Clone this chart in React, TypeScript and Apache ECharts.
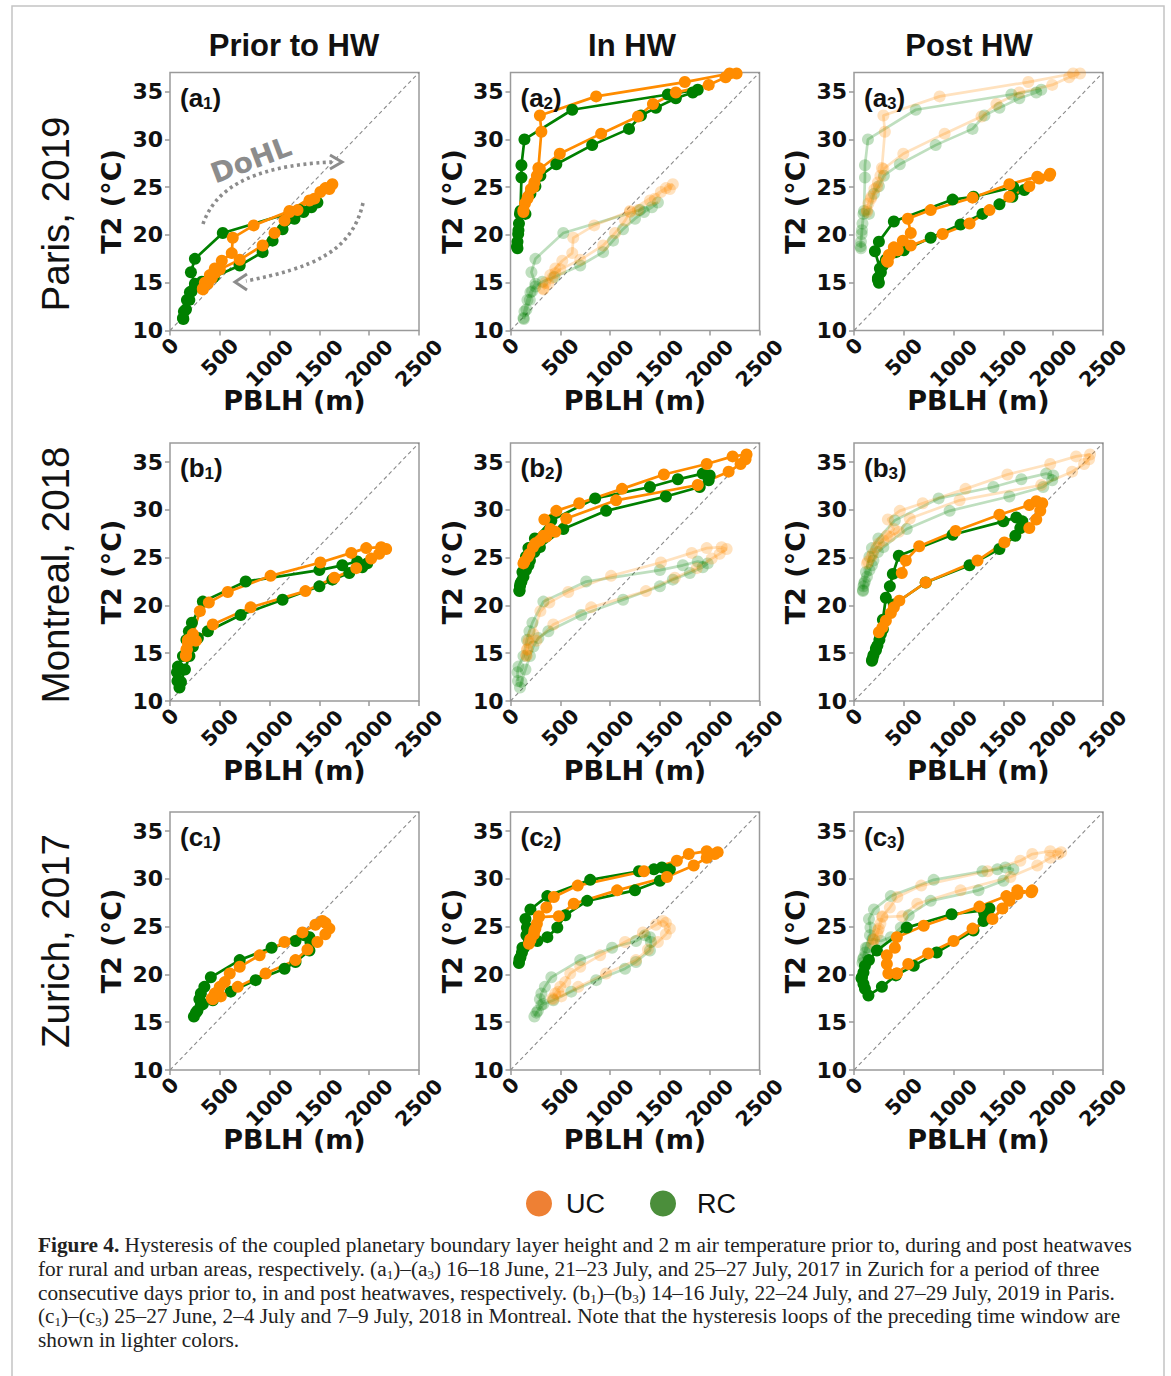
import React, { useEffect, useRef } from 'react';
import * as echarts from 'echarts';

// ---------- tick labels / texts ----------
const X_TICKS = [0, 500, 1000, 1500, 2000, 2500];
const Y_TICKS = [10, 15, 20, 25, 30, 35];
const COLUMN_TITLES = ['Prior to HW', 'In HW', 'Post HW'];
const ROW_TITLES = ['Paris, 2019', 'Montreal, 2018', 'Zurich, 2017'];
const ROW_LETTERS = ['a', 'b', 'c'];
const X_NAME = 'PBLH (m)';
const Y_NAME = 'T2 (°C)';
const DIAGONAL = [[0, 10], [2500, 37]];

// ---------- data: [PBLH (m), T2 (°C)] ----------
// Paris, 2019
const PARIS_PRIOR_RC = [[134,11.2],[160,12.2],[194,13.2],[217,14.1],[250,14.6],[320,15.1],[440,15.6],[700,16.8],[930,18.2],[1030,19.4],[1130,20.6],[1250,21.7],[1340,22.4],[1420,22.9],[1480,23.4],[1300,22.6],[530,20.2],[250,17.5],[210,16.1],[250,14.9],[200,14.0],[170,13.2],[140,12.0],[130,11.3]];
const PARIS_PRIOR_UC = [[330,14.3],[380,14.9],[420,15.5],[450,16.0],[500,16.4],[700,17.4],[930,18.9],[1050,20.2],[1150,21.5],[1200,22.4],[1280,22.6],[1400,23.6],[1450,23.8],[1510,24.5],[1600,24.8],[1630,25.3],[1560,24.9],[1200,22.5],[840,21.0],[630,19.7],[620,18.1],[520,17.3],[450,16.5],[400,15.8],[350,15.0],[330,14.4]];
const PARIS_IN_RC = [[70,18.6],[70,19.3],[77,20.1],[85,21.2],[95,22.2],[150,22.2],[200,24.3],[250,25.1],[300,26.2],[460,27.4],[820,29.4],[1190,31.1],[1310,32.5],[1460,33.3],[1660,34.3],[1830,34.9],[1880,35.2],[1580,34.7],[620,33.1],[140,30.0],[110,27.3],[110,26.0],[100,22.5],[80,20.5],[65,18.8]];
const PARIS_IN_UC = [[130,22.4],[145,23.3],[175,24.0],[205,24.8],[240,25.5],[265,26.2],[295,26.9],[495,28.5],[910,30.6],[1280,32.4],[1430,33.7],[1660,34.9],[1990,35.7],[2160,36.5],[2270,36.9],[2200,36.9],[1750,36.0],[860,34.5],[295,32.5],[310,30.8],[280,27.0],[230,25.0],[170,23.8],[130,22.6]];
const PARIS_POST_RC = [[250,15.0],[240,15.5],[270,16.1],[290,16.8],[320,17.4],[420,18.2],[500,18.4],[770,19.7],[1070,21.1],[1290,22.2],[1460,23.2],[1590,24.0],[1710,24.7],[1600,25.0],[1200,24.0],[990,23.7],[400,21.4],[250,19.3],[210,18.3],[260,16.5],[240,15.3]];
const PARIS_POST_UC = [[340,17.2],[360,17.9],[440,18.4],[570,18.9],[890,20.1],[1160,21.2],[1360,22.6],[1560,24.0],[1760,25.1],[1860,25.9],[1960,26.2],[1970,26.4],[1840,26.1],[1560,25.3],[1190,23.9],[770,22.6],[540,21.7],[570,20.2],[490,19.4],[400,18.7],[350,17.9],[330,17.3]];
// Montreal, 2018
const MONTREAL_PRIOR_RC = [[95,11.4],[110,12.0],[150,13.3],[195,14.7],[230,15.7],[280,16.6],[380,17.3],[710,19.0],[1130,20.6],[1500,22.0],[1630,22.7],[1800,23.4],[1930,24.0],[1980,24.4],[1880,24.6],[1730,24.2],[1500,23.7],[760,22.5],[330,20.4],[220,18.2],[190,17.3],[165,16.4],[130,14.7],[80,13.6],[70,13.0],[75,12.1]];
const MONTREAL_PRIOR_UC = [[160,14.7],[170,15.4],[180,16.1],[260,16.3],[430,18.0],[810,19.8],[1360,21.5],[1650,22.9],[1870,23.9],[2020,24.9],[2100,25.4],[2170,25.9],[2120,26.1],[1970,26.0],[1820,25.5],[1510,24.5],[1010,23.1],[580,21.4],[390,20.3],[300,19.4],[230,17.0],[180,16.4],[165,15.4],[160,14.8]];
const MONTREAL_IN_RC = [[90,21.5],[95,22.0],[110,22.5],[130,23.0],[155,23.7],[180,24.2],[195,24.7],[240,25.6],[295,26.1],[530,28.0],[960,29.9],[1560,31.4],[1900,32.4],[1990,33.1],[2000,33.6],[1930,33.8],[1680,33.2],[1400,32.4],[850,31.2],[410,28.9],[245,27.0],[180,26.0],[155,25.1],[120,23.5],[100,22.3],[90,21.6]];
const MONTREAL_IN_UC = [[130,24.4],[175,25.1],[225,26.1],[295,26.8],[360,27.2],[450,27.7],[560,29.1],[1060,31.0],[1880,32.6],[2190,34.0],[2310,34.8],[2360,35.3],[2370,35.8],[2230,35.6],[1970,34.8],[1540,33.7],[1120,32.2],[690,30.7],[460,29.9],[340,29.0],[400,28.0],[330,27.3],[250,26.5],[190,25.4],[140,24.6]];
const MONTREAL_POST_RC = [[180,14.2],[195,14.8],[220,15.3],[235,15.8],[255,16.4],[270,17.0],[290,17.5],[400,20.1],[720,22.4],[1160,24.2],[1460,25.9],[1620,27.3],[1670,28.1],[1690,28.8],[1630,29.2],[1500,28.8],[990,27.4],[450,25.2],[390,23.3],[360,22.0],[320,20.8],[290,18.5],[260,17.0],[220,15.5],[185,14.4]];
const MONTREAL_POST_UC = [[250,17.2],[285,17.7],[320,18.4],[370,19.2],[400,19.8],[455,20.5],[720,22.4],[1240,24.7],[1510,26.6],[1760,28.1],[1830,29.0],[1870,29.9],[1890,30.7],[1830,30.9],[1760,30.5],[1460,29.5],[1020,27.8],[655,26.2],[520,24.7],[480,23.4]];
// Zurich, 2017
const ZURICH_PRIOR_RC = [[240,15.6],[275,16.2],[310,16.8],[430,17.3],[610,18.2],[860,19.4],[1150,20.6],[1260,21.3],[1400,22.5],[1410,23.4],[1400,23.9],[1350,24.1],[1260,23.5],[1020,22.8],[700,21.5],[410,19.7],[345,18.7],[310,18.0],[295,17.4],[330,16.9],[260,16.0]];
const ZURICH_PRIOR_UC = [[430,17.4],[480,18.2],[510,17.7],[680,18.7],[960,20.1],[1260,21.5],[1380,22.6],[1480,23.4],[1560,24.2],[1600,24.8],[1560,25.4],[1530,25.6],[1460,25.2],[1330,24.4],[1150,23.4],[900,22.0],[700,20.8],[600,20.1],[550,19.2],[500,18.7],[450,18.0],[420,17.5]];
const ZURICH_IN_RC = [[85,21.2],[100,21.8],[115,22.3],[135,22.8],[185,23.7],[270,23.5],[370,23.9],[470,24.9],[550,26.2],[770,27.7],[1250,28.8],[1500,29.8],[1600,31.0],[1520,31.2],[1440,31.0],[1290,30.8],[800,29.9],[370,28.2],[200,26.8],[150,25.8],[165,24.9],[160,24.1],[120,22.8],[90,21.6]];
const ZURICH_IN_UC = [[185,23.2],[200,23.7],[235,24.2],[250,24.8],[265,25.3],[285,26.0],[485,26.1],[635,27.4],[1070,28.8],[1570,30.2],[1840,31.4],[1970,32.2],[2050,32.6],[2080,32.8],[1970,32.9],[1790,32.6],[1670,31.9],[1340,30.8],[675,29.3],[435,28.1],[360,27.0],[285,26.1],[240,24.6],[200,23.6]];
const ZURICH_POST_RC = [[80,19.7],[95,19.0],[110,18.5],[145,17.8],[280,18.7],[420,19.9],[600,20.9],[830,22.3],[1200,24.6],[1300,25.6],[1310,26.3],[1360,26.9],[1300,26.7],[980,26.3],[530,24.9],[230,22.5],[150,21.5],[110,20.9],[95,20.2],[75,19.6]];
const ZURICH_POST_UC = [[430,20.1],[545,21.1],[745,22.2],[1000,23.5],[1190,24.8],[1390,25.8],[1490,26.9],[1560,27.7],[1640,28.4],[1790,28.8],[1780,28.6],[1640,28.8],[1530,28.2],[1260,27.1],[700,25.1],[430,23.9],[410,22.8],[330,22.0],[330,21.1],[345,20.1],[430,20.1]];

const PANELS = [
  [{ uc: PARIS_PRIOR_UC, rc: PARIS_PRIOR_RC }, { uc: PARIS_IN_UC, rc: PARIS_IN_RC }, { uc: PARIS_POST_UC, rc: PARIS_POST_RC }],
  [{ uc: MONTREAL_PRIOR_UC, rc: MONTREAL_PRIOR_RC }, { uc: MONTREAL_IN_UC, rc: MONTREAL_IN_RC }, { uc: MONTREAL_POST_UC, rc: MONTREAL_POST_RC }],
  [{ uc: ZURICH_PRIOR_UC, rc: ZURICH_PRIOR_RC }, { uc: ZURICH_IN_UC, rc: ZURICH_IN_RC }, { uc: ZURICH_POST_UC, rc: ZURICH_POST_RC }],
];

const CAPTION = [
  '{b|Figure 4.} Hysteresis of the coupled planetary boundary layer height and 2 m air temperature prior to, during and post heatwaves',
  'for rural and urban areas, respectively. (a{s|1})–(a{s|3}) 16–18 June, 21–23 July, and 25–27 July, 2017 in Zurich for a period of three',
  'consecutive days prior to, in and post heatwaves, respectively. (b{s|1})–(b{s|3}) 14–16 July, 22–24 July, and 27–29 July, 2019 in Paris.',
  '(c{s|1})–(c{s|3}) 25–27 June, 2–4 July and 7–9 July, 2018 in Montreal. Note that the hysteresis loops of the preceding time window are',
  'shown in lighter colors.',
];

// ---------- layout / style ----------
const GRID_LEFT = [170, 510.5, 854];
const GRID_TOP = [72.5, 443, 812];
const GRID_W = 249;
const GRID_H = 258;
const UC_COLOR = '#FF8C00';
const RC_COLOR = '#008000';
const TICK_FONT = 'DejaVu Sans';
const SANS = 'Liberation Sans';
const INK = '#111';

function buildOption() {
  const grid: any[] = [];
  const xAxis: any[] = [];
  const yAxis: any[] = [];
  const series: any[] = [];
  const graphic: any[] = [];

  const xLabelFont = { fontSize: 20.5, fontWeight: 'bold', fontFamily: TICK_FONT, color: INK };
  const yLabelFont = { fontSize: 22, fontWeight: 'bold', fontFamily: TICK_FONT, color: INK };
  const nameFont = { fontSize: 27, fontWeight: 'bold', fontFamily: TICK_FONT, color: INK };

  for (let r = 0; r < 3; r++) {
    for (let c = 0; c < 3; c++) {
      const i = r * 3 + c;
      grid.push({
        left: GRID_LEFT[c], top: GRID_TOP[r], width: GRID_W, height: GRID_H,
        show: true, borderColor: '#9a9a9a', borderWidth: 1.5, backgroundColor: 'transparent',
      });
      xAxis.push({
        type: 'value', gridIndex: i, min: 0, max: 2500, interval: 500,
        splitLine: { show: false },
        axisLine: { show: false },
        axisTick: { show: true, length: 5, customValues: X_TICKS, lineStyle: { color: '#9a9a9a', width: 1.5 } },
        axisLabel: {
          ...xLabelFont, rotate: 45, align: 'center', verticalAlign: 'middle', margin: 16,
          customValues: X_TICKS,
          formatter: (v: number) => `{l${String(v).length}|${v}}`,
          rich: {
            l1: { ...xLabelFont, padding: [0, 0, 0, 0] },
            l3: { ...xLabelFont, padding: [15, 15, 0, 0] },
            l4: { ...xLabelFont, padding: [24, 24, 0, 0] },
          },
        },
        name: X_NAME, nameLocation: 'middle', nameGap: 56, nameMoveOverlap: false,
        nameTextStyle: nameFont,
      });
      yAxis.push({
        type: 'value', gridIndex: i, min: 10, max: 37,
        splitLine: { show: false },
        axisLine: { show: false },
        axisTick: { show: true, length: 5, customValues: Y_TICKS, lineStyle: { color: '#9a9a9a', width: 1.5 } },
        axisLabel: { ...yLabelFont, margin: 7, customValues: Y_TICKS },
        name: Y_NAME, nameLocation: 'middle', nameGap: 45,
        nameTextStyle: nameFont,
      });

      series.push({
        type: 'line', name: 'diagonal', xAxisIndex: i, yAxisIndex: i, data: DIAGONAL,
        symbol: 'none', silent: true, z: 1,
        lineStyle: { color: '#8a8a8a', width: 1.1, type: [4, 3] },
      });

      const mk = (name: string, data: number[][], color: string, faded: boolean) => ({
        type: 'line', name, xAxisIndex: i, yAxisIndex: i, data,
        symbol: 'circle', symbolSize: 12, showSymbol: true, showAllSymbol: true,
        z: faded ? 2 : 3,
        lineStyle: { color, width: 2.7, opacity: faded ? 0.25 : 1 },
        itemStyle: { color, opacity: faded ? 0.25 : 1 },
        emphasis: { disabled: true },
      });
      if (c > 0) {
        const prev = PANELS[r][c - 1];
        series.push(mk('RC (preceding)', prev.rc, RC_COLOR, true));
        series.push(mk('UC (preceding)', prev.uc, UC_COLOR, true));
      }
      series.push(mk('RC', PANELS[r][c].rc, RC_COLOR, false));
      series.push(mk('UC', PANELS[r][c].uc, UC_COLOR, false));

      // panel label like (a1), with subscript number
      graphic.push({
        type: 'text', left: GRID_LEFT[c] + 10, top: GRID_TOP[r] + 11, z: 10,
        style: {
          text: `{m|(${ROW_LETTERS[r]}}{s|${c + 1}}{m|)}`,
          rich: {
            m: { fontSize: 26, fontWeight: 'bold', fontFamily: SANS, fill: INK, lineHeight: 28 },
            s: { fontSize: 17, fontWeight: 'bold', fontFamily: SANS, fill: INK, lineHeight: 17, padding: [11, 0, 0, 0], verticalAlign: 'bottom' },
          },
        },
      });
    }
  }

  // column titles
  const titleX = [294, 632, 969];
  COLUMN_TITLES.forEach((t, c) => {
    graphic.push({
      type: 'text', x: titleX[c], y: 45,
      style: { text: t, fontSize: 31, fontWeight: 'bold', fontFamily: SANS, fill: INK, align: 'center', verticalAlign: 'middle' },
    });
  });
  // row titles
  const rowY = [214, 575, 941];
  ROW_TITLES.forEach((t, r) => {
    graphic.push({
      type: 'text', x: 55, y: rowY[r], rotation: Math.PI / 2,
      style: { text: t, fontSize: 38.5, fontFamily: SANS, fill: INK, align: 'center', verticalAlign: 'middle' },
    });
  });

  // DoHL annotation in (a1)
  const annoStroke = '#8c8c8c';
  graphic.push(
    {
      type: 'text', x: 251, y: 160, rotation: 0.36, z: 5,
      style: { text: 'DoHL', fontSize: 28, fontWeight: 'bold', fontFamily: TICK_FONT, fill: '#8c8c8c', align: 'center', verticalAlign: 'middle' },
    },
    {
      type: 'bezierCurve', z: 5,
      shape: { x1: 203, y1: 224, cpx1: 214, cpy1: 192, cpx2: 246, cpy2: 166, x2: 332, y2: 162 },
      style: { stroke: annoStroke, lineWidth: 3.6, lineDash: [3, 3.5], fill: null },
    },
    {
      type: 'polyline', z: 5,
      shape: { points: [[330, 155], [342, 162], [330, 169]] },
      style: { stroke: annoStroke, lineWidth: 3, fill: null },
    },
    {
      type: 'bezierCurve', z: 5,
      shape: { x1: 363, y1: 203, cpx1: 352, cpy1: 252, cpx2: 312, cpy2: 268, x2: 246, y2: 281 },
      style: { stroke: annoStroke, lineWidth: 3.6, lineDash: [3, 3.5], fill: null },
    },
    {
      type: 'polyline', z: 5,
      shape: { points: [[247, 274], [235, 282], [247, 290]] },
      style: { stroke: annoStroke, lineWidth: 3, fill: null },
    },
  );

  // caption
  const CAP_SIZE = 21.3;
  CAPTION.forEach((line, k) => {
    graphic.push({
      type: 'text', x: 38, y: 1245 + k * 23.8,
      style: {
        text: line, fontSize: CAP_SIZE, fontFamily: 'Liberation Serif', fill: '#222', verticalAlign: 'middle', lineHeight: 24,
        rich: {
          b: { fontSize: CAP_SIZE, fontWeight: 'bold', fontFamily: 'Liberation Serif', fill: '#222', lineHeight: 24 },
          s: { fontSize: 13, fontFamily: 'Liberation Serif', fill: '#222', lineHeight: 13, padding: [9, 0, 0, 0], verticalAlign: 'bottom' },
        },
      },
    });
  });

  // outer frame
  graphic.push({
    type: 'rect', z: 0, silent: true,
    shape: { x: 12, y: 6, width: 1152, height: 1390 },
    style: { fill: 'none', stroke: '#c4c4c4', lineWidth: 1.5 },
  });

  const legendBase = {
    top: 1185, icon: 'circle', itemWidth: 26, itemHeight: 26, selectedMode: false,
  };
  const legend = [
    { ...legendBase, left: 521, data: [{ name: 'UC', itemStyle: { color: '#EE8034' } }],
      textStyle: { fontSize: 27, fontFamily: SANS, color: INK, padding: [0, 0, 0, 9] } },
    { ...legendBase, left: 645, data: [{ name: 'RC', itemStyle: { color: '#4B8E3B' } }],
      textStyle: { fontSize: 27, fontFamily: SANS, color: INK, padding: [0, 0, 0, 16] } },
  ];

  return { animation: false, backgroundColor: '#fff', grid, xAxis, yAxis, series, graphic, legend };
}

export default function App() {
  const ref = useRef<HTMLDivElement>(null);
  useEffect(() => {
    if (!ref.current) return;
    const chart = echarts.init(ref.current, null, { renderer: 'svg' });
    chart.setOption(buildOption() as any);
    return () => chart.dispose();
  }, []);
  return (
    <div
      ref={ref}
      style={{ position: 'absolute', left: 0, top: 0, width: 1171, height: 1376, background: '#fff' }}
    />
  );
}
